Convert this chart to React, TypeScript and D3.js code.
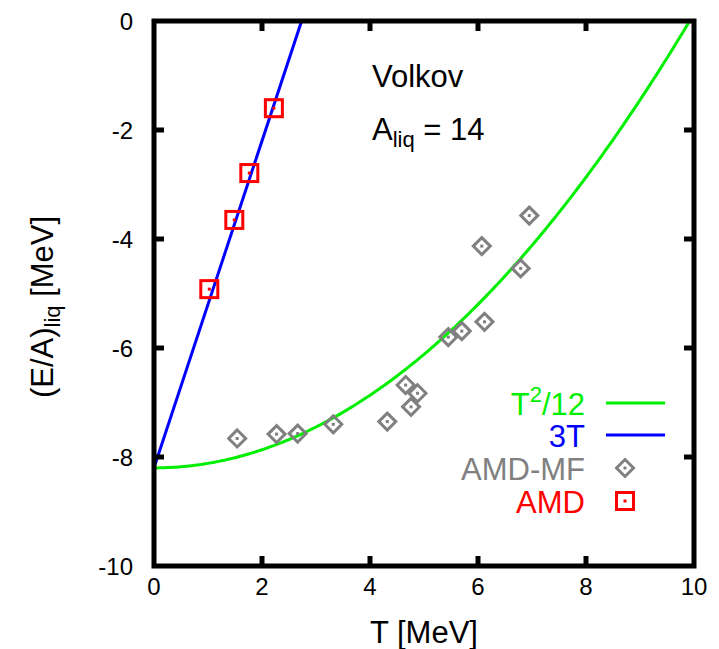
import React from "react";
import * as d3 from "d3";

const E0 = -8.2;
const xTicks = [0, 2, 4, 6, 8, 10];
const yTicks = [0, -2, -4, -6, -8, -10];

const amdT = [2.22, 1.765, 1.487, 1.024];
const amdE = [-1.6, -2.79, -3.65, -4.92];

const mfT = [1.54, 2.27, 2.66, 3.32, 4.32, 4.66, 4.88, 4.76, 6.95, 6.07, 6.79, 6.12, 5.7, 5.45];
const mfE = [-7.66, -7.58, -7.57, -7.4, -7.35, -6.68, -6.83, -7.08, -3.57, -4.13, -4.54, -5.52, -5.69, -5.8];

const FONT = "'Liberation Sans', Arial, Helvetica, sans-serif";
const GREEN = "#00ee00";
const BLUE = "#0000ff";
const RED = "#ff0000";
const GRAY = "#808080";

export default function App() {
  const x = d3.scaleLinear().domain([0, 10]).range([154, 694]);
  const y = d3.scaleLinear().domain([-10, 0]).range([566, 21]);

  const quad = d3.range(0, 10.001, 0.05).map((t) => [t, (t * t) / 12 + E0] as [number, number]);
  const lineGen = d3
    .line<[number, number]>()
    .x((d) => x(d[0]))
    .y((d) => y(d[1]));
  const tEnd = -E0 / 3;
  const lin: [number, number][] = [
    [0, E0],
    [tEnd, 0],
  ];

  const diamond = (cx: number, cy: number, key: string | number) => (
    <g key={key}>
      <path
        d={`M${cx},${cy - 8.5}L${cx + 8.5},${cy}L${cx},${cy + 8.5}L${cx - 8.5},${cy}Z`}
        fill="none"
        stroke={GRAY}
        strokeWidth={3}
      />
      <rect x={cx - 1.5} y={cy - 1.5} width={3} height={3} fill={GRAY} />
    </g>
  );
  const square = (cx: number, cy: number, key: string | number) => (
    <g key={key}>
      <rect x={cx - 8.5} y={cy - 8.5} width={17} height={17} fill="none" stroke={RED} strokeWidth={3} />
      <rect x={cx - 1.5} y={cy - 1.5} width={3} height={3} fill={RED} />
    </g>
  );

  const legendX = 585;
  const lineX1 = 606;
  const lineX2 = 665;
  const markX = 625;
  const rows = [403, 435, 468, 501];

  return (
    <svg
      width={719}
      height={649}
      style={{ position: "absolute", left: 0, top: 0, background: "#fff" }}
      fontFamily={FONT}
    >
      <defs>
        <clipPath id="plotClip">
          <rect x={154} y={21} width={540} height={545} />
        </clipPath>
      </defs>

      {/* curves */}
      <g clipPath="url(#plotClip)">
        <path d={lineGen(quad) || ""} fill="none" stroke={GREEN} strokeWidth={3} />
        <path d={lineGen(lin) || ""} fill="none" stroke={BLUE} strokeWidth={3} />
      </g>

      {/* points */}
      {mfT.map((t, i) => diamond(x(t), y(mfE[i]), "mf" + i))}
      {amdT.map((t, i) => square(x(t), y(amdE[i]), "amd" + i))}

      {/* ticks */}
      {xTicks.slice(1, -1).map((t) => (
        <g key={"xt" + t}>
          <line x1={x(t)} x2={x(t)} y1={566} y2={556} stroke="#000" strokeWidth={5} />
          <line x1={x(t)} x2={x(t)} y1={21} y2={31} stroke="#000" strokeWidth={5} />
        </g>
      ))}
      {yTicks.slice(1, -1).map((t) => (
        <g key={"yt" + t}>
          <line x1={154} x2={164} y1={y(t)} y2={y(t)} stroke="#000" strokeWidth={5} />
          <line x1={694} x2={684} y1={y(t)} y2={y(t)} stroke="#000" strokeWidth={5} />
        </g>
      ))}

      {/* frame */}
      <rect x={154} y={21} width={540} height={545} fill="none" stroke="#000" strokeWidth={5} />

      {/* tick labels */}
      {xTicks.map((t) => (
        <text key={"xl" + t} x={x(t)} y={595} textAnchor="middle" fontSize={24}>
          {t}
        </text>
      ))}
      {yTicks.map((t) => (
        <text key={"yl" + t} x={133} y={y(t) + 9} textAnchor="end" fontSize={24}>
          {t}
        </text>
      ))}

      {/* axis labels */}
      <text x={424} y={643} textAnchor="middle" fontSize={31}>
        T [MeV]
      </text>
      <text transform="translate(53,307) rotate(-90)" textAnchor="middle" fontSize={31}>
        (E/A)
        <tspan fontSize={22} dy={7}>
          liq
        </tspan>
        <tspan dy={-7}> [MeV]</tspan>
      </text>

      {/* annotation */}
      <text x={372} y={87} fontSize={31}>
        Volkov
      </text>
      <text x={372} y={140} fontSize={31}>
        A
        <tspan fontSize={22} dy={7}>
          liq
        </tspan>
        <tspan dy={-7}> = 14</tspan>
      </text>

      {/* legend */}
      <text x={legendX} y={rows[0] + 12} textAnchor="end" fontSize={31} fill={GREEN}>
        T
        <tspan fontSize={22} dy={-13}>
          2
        </tspan>
        <tspan dy={13}>/12</tspan>
      </text>
      <line x1={lineX1} x2={lineX2} y1={rows[0]} y2={rows[0]} stroke={GREEN} strokeWidth={3} />
      <text x={legendX} y={rows[1] + 12} textAnchor="end" fontSize={31} fill={BLUE}>
        3T
      </text>
      <line x1={lineX1} x2={lineX2} y1={rows[1]} y2={rows[1]} stroke={BLUE} strokeWidth={3} />
      <text x={legendX} y={rows[2] + 12} textAnchor="end" fontSize={31} fill={GRAY}>
        AMD-MF
      </text>
      {diamond(markX, rows[2], "legd")}
      <text x={legendX} y={rows[3] + 12} textAnchor="end" fontSize={31} fill={RED}>
        AMD
      </text>
      {square(markX, rows[3], "legs")}
    </svg>
  );
}
